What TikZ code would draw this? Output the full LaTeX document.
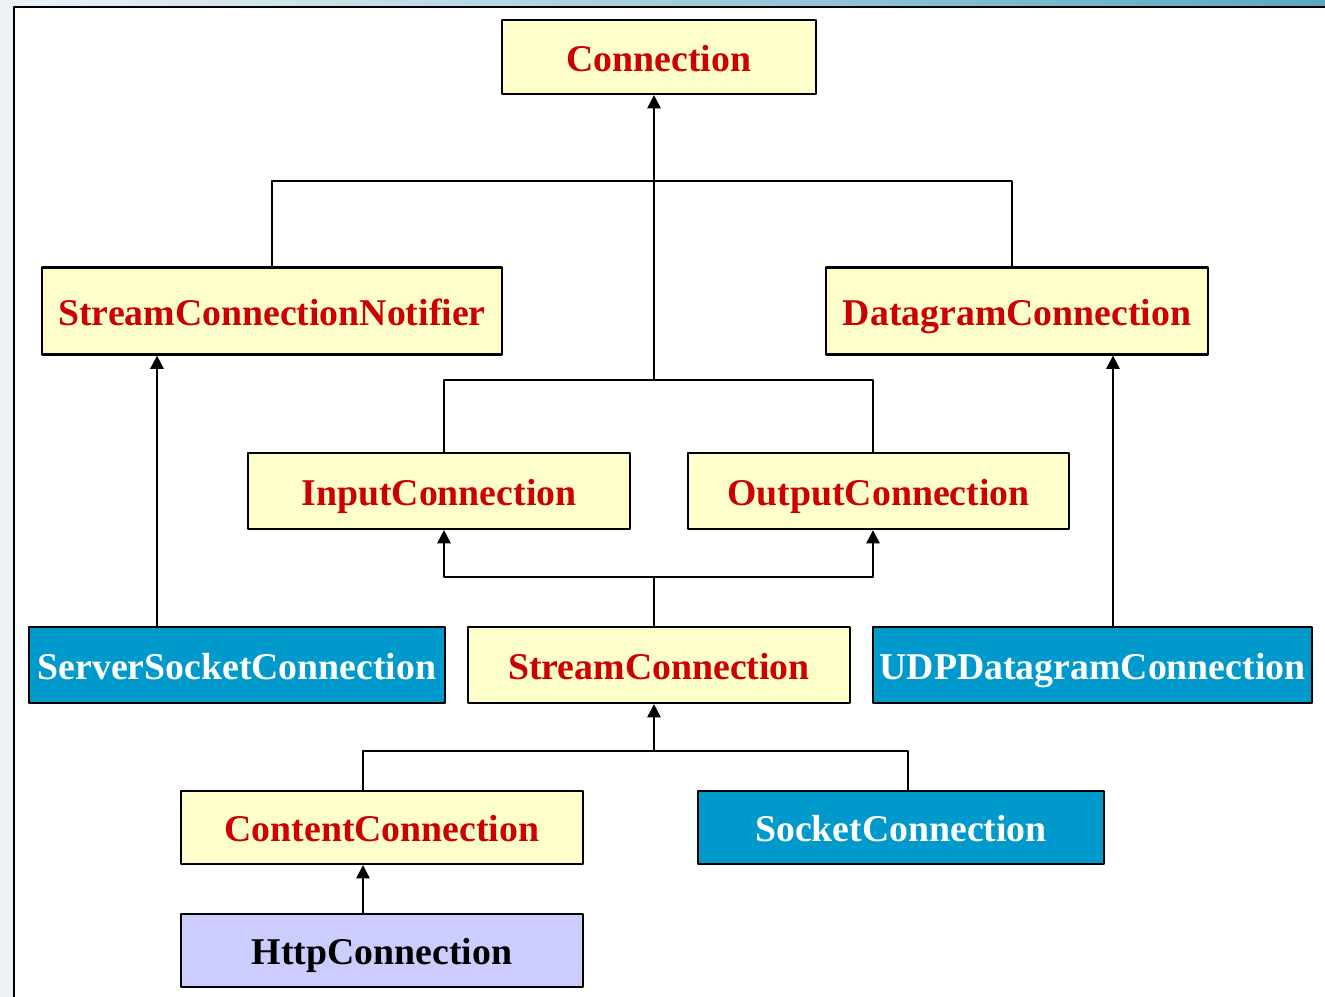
\documentclass[tikz,border=0pt]{standalone}
\usepackage{fontspec}
\setmainfont{Liberation Serif}
\usetikzlibrary{arrows.meta}
\definecolor{boxyel}{HTML}{FFFFCC}
\definecolor{txtred}{HTML}{CC0000}
\definecolor{boxblue}{HTML}{0099CC}
\definecolor{boxlav}{HTML}{CCCCFF}
\definecolor{outbg}{HTML}{EEF2F6}
\definecolor{barblue}{HTML}{5AA8C0}
\begin{document}
\begin{tikzpicture}[x=0.02cm,y=-0.02cm,>={Triangle[width=7.5pt,length=7.5pt]}, line width=1.2pt, line join=round,
	font=\fontsize{21.5}{24}\selectfont\bfseries,
	cls/.style={draw,line width=1.3pt,inner sep=0pt,minimum height=1.52cm,text height=17pt,text depth=1pt},
	yel/.style={cls,fill=boxyel,text=txtred},
	blu/.style={cls,fill=boxblue,text=white},
	lav/.style={cls,fill=boxlav,text=black}]
	\useasboundingbox (0,0) rectangle (1325,997);
	\fill[outbg] (0,0) rectangle (1325,997);
	\shade[left color=outbg,right color=barblue] (0,0) rectangle (1325,7);
	\fill[white] (14,7) rectangle (1325,997);
	\draw[line width=1.6pt] (14,997)--(14,7)--(1325,7);
	% các lớp
	\node[yel,minimum width=6.28cm,minimum height=1.48cm] (conn) at (659,57) {Connection};
	\node[yel,minimum width=9.2cm,minimum height=1.74cm] (notif) at (272,311) {StreamConnectionNotifier};
	\node[yel,minimum width=7.64cm,minimum height=1.74cm] (dgram) at (1017,311) {DatagramConnection};
	\node[yel,minimum width=7.64cm] (input) at (439,491) {InputConnection};
	\node[yel,minimum width=7.62cm] (output) at (878.5,491) {OutputConnection};
	\node[blu,minimum width=8.32cm] (server) at (237,665) {ServerSocketConnection};
	\node[yel,minimum width=7.64cm] (stream) at (659,665) {StreamConnection};
	\node[blu,minimum width=8.78cm] (udp) at (1092.5,665) {UDPDatagramConnection};
	\node[yel,minimum width=8.04cm,minimum height=1.46cm] (content) at (382,827.5) {ContentConnection};
	\node[blu,minimum width=8.12cm,minimum height=1.46cm] (socket) at (901,827.5) {SocketConnection};
	\node[lav,minimum width=8.04cm,minimum height=1.46cm] (http) at (382,950.5) {HttpConnection};
	% các đường nối
	\coordinate (top) at (654,181);
	\coordinate (mid) at (654,380);
	\coordinate (low) at (654,577);
	\coordinate (bot) at (654,751);
	\draw[->] (mid)--(mid |- conn.south);
	\draw (notif.north) |- (top) -| (1012,0 |- dgram.north);
	\draw (444,0 |- input.north) |- (mid) -| (873,0 |- output.north);
	\draw (low |- stream.north)--(low);
	\draw[->] (low) -| (444,0 |- input.south);
	\draw[->] (low) -| (873,0 |- output.south);
	\draw[->] (157,0 |- server.north)--(157,0 |- notif.south);
	\draw[->] (1113,0 |- udp.north)--(1113,0 |- dgram.south);
	\draw[->] (bot)--(bot |- stream.south);
	\draw (363,0 |- content.north) |- (bot) -| (908,0 |- socket.north);
	\draw[->] (363,0 |- http.north)--(363,0 |- content.south); % mũi tên kế thừa
\end{tikzpicture}
\end{document}
